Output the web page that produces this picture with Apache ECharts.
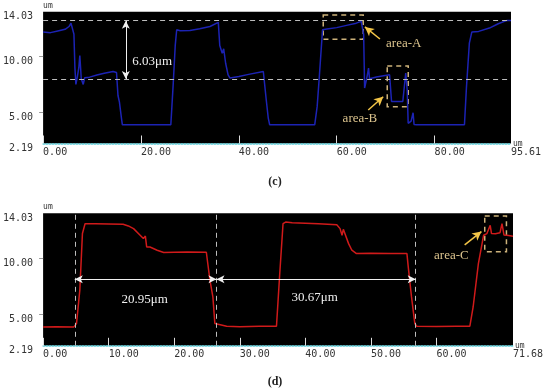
<!DOCTYPE html>
<html>
<head>
<meta charset="utf-8">
<script src="https://cdn.jsdelivr.net/npm/echarts@6/dist/echarts.min.js"></script>
<style>html,body{margin:0;padding:0;background:#fff}#c{width:550px;height:391px}</style>
</head>
<body>
<div id="c"></div>
<script>
// Panel (c): blue profile
const cX = [0,1.5,3,4.5,5.3,5.7,6.0,6.3,6.5,6.7,7.0,7.3,7.5,7.8,8.2,8.5,9.5,11,12.5,14.3,15.0,15.3,15.6,16.0,16.2,26.1,26.6,27.0,27.3,28,30,32,34.1,35.8,36.1,36.6,36.9,37.3,37.8,38.2,40,42,45.0,45.4,45.6,46.0,46.3,55.5,56.0,56.4,57.1,58,60,62,64,65.0,65.5,65.7,66.2,66.5,66.7,67.0,68.1,70.8,71.2,73.5,74.1,74.4,74.6,75.2,75.6,75.8,76.3,86.1,86.5,87.1,87.6,89,91.2,93,94.8,95.61];
const cY = [12.2,12.15,12.3,12.45,12.7,13.0,13.0,12.0,9.0,7.5,8.2,9.0,10.1,8.0,7.5,8.1,8.15,8.35,8.5,8.66,8.57,6.5,5.9,4.5,3.87,3.87,7.64,11.0,12.41,12.32,12.35,12.5,12.7,13.07,11.0,10.3,10.7,9.4,8.36,8.07,8.2,8.4,8.66,8.5,6.1,4.5,3.87,3.87,5.5,7.92,12.41,12.47,12.6,12.8,13.0,13.16,12.0,7.17,8.2,8.97,8.0,7.9,8.16,8.36,5.96,5.96,8.52,7.0,4.0,4.2,4.95,3.9,3.87,3.87,7.17,11.2,12.2,12.26,12.56,12.95,13.25,13.25];
// Panel (d): red profile
const dX = [0,2,4.69,4.9,5.1,5.6,6.0,6.4,8,10,12.2,13.0,13.8,14.8,15.3,15.6,15.7,15.8,16.3,17.4,18.4,20,22,24.9,25.2,25.45,25.9,26.2,26.5,28,30,33,35.6,36.1,36.6,37.0,38,40,42,44.8,45.3,45.6,45.8,46.1,46.6,47.1,47.8,50,53,55.5,55.7,56.2,56.7,57.0,60,63,65.1,65.6,66.4,67.2,67.7,68.0,68.2,68.4,69.0,69.7,70.0,70.3,71.0,71.68];
const dY = [3.88,3.9,3.88,3.95,4.18,7.16,12.22,13.1,13.1,13.08,13.05,12.9,12.66,12.07,11.77,12.0,11.5,11.02,11.02,10.73,10.52,10.55,10.58,10.55,10.4,8.05,6.56,4.18,4.03,3.94,3.9,3.94,3.94,8.65,13.1,13.25,13.18,13.15,13.1,13.0,12.66,12.07,12.6,12.5,11.32,10.73,10.43,10.45,10.43,10.43,9.24,6.56,4.18,3.94,3.92,3.94,3.94,5.66,9.54,12.07,12.22,12.3,12.96,12.22,12.2,12.3,13.1,12.1,12.05,11.98];

const yMin = 2.19, yMax = 14.03;
const cXMax = 95.61, dXMax = 71.68;
const yLabelVals = [2.19, 5, 10, 14.03];
const yTickVals = [5, 10];
const cXLabelVals = [0, 20, 40, 60, 80, 95.61];
const cXTickVals = [0, 20, 40, 60, 80];
const dXLabelVals = [0, 10, 20, 30, 40, 50, 60, 71.68];
const dXTickVals = [0, 10, 20, 30, 40, 50, 60];

// annotations (data coordinates)
const cDashY = [13.22, 7.98];
const cArrowX = 16.9;
const cGapText = '6.03μm';
const areaA = [[57.24, 13.73], [65.41, 11.55]];
const areaB = [[70.32, 9.15], [74.61, 5.50]];
const arrowA = [[68.83, 11.58], [65.76, 12.66]];
const arrowB = [[66.44, 5.20], [69.5, 6.39]];
const dDashX = [4.83, 26.45, 56.84];
const dArrowY = 8.13;
const dTexts = ['20.95μm', '30.67μm'];
const areaC = [[67.37, 13.79], [70.68, 10.60]];
const arrowC = [[64.31, 11.21], [66.86, 12.40]];

const pair = (xs, ys) => xs.map((x, i) => [x, ys[i]]);
const axisFont = {fontFamily: 'DejaVu Sans Mono', fontSize: 10, color: '#333'};
const gold = '#f2c447', tan = '#cdb27a', txtTan = '#dcc48e';

function xAxis(gi, max, labVals, tickVals) {
  return {
    type: 'value', gridIndex: gi, min: 0, max: max,
    name: 'um', nameLocation: 'end', nameGap: 2,
    nameTextStyle: {fontFamily: 'DejaVu Sans Mono', fontSize: 8, color: '#333', align: 'left', verticalAlign: 'middle'},
    axisLine: {show: true, lineStyle: {color: '#5ed0dc', type: 'dotted', width: 1.5}},
    axisTick: {show: true, inside: true, length: 8, customValues: tickVals, lineStyle: {color: '#ddd', width: 1}},
    axisLabel: Object.assign({show: true, customValues: labVals, margin: 4, align: 'left',
      formatter: v => v.toFixed(2)}, axisFont),
    splitLine: {show: false}
  };
}
function yAxis(gi) {
  return {
    type: 'value', gridIndex: gi, min: yMin, max: yMax,
    name: 'um', nameLocation: 'end', nameGap: 2,
    nameTextStyle: {fontFamily: 'DejaVu Sans Mono', fontSize: 8, color: '#333', align: 'left', verticalAlign: 'bottom'},
    axisLine: {show: false},
    axisTick: {show: true, inside: false, length: 4, customValues: yTickVals, lineStyle: {color: '#999'}},
    axisLabel: Object.assign({show: true, customValues: yLabelVals, margin: 10, verticalAlign: 'top',
      formatter: v => v.toFixed(2)}, axisFont),
    splitLine: {show: false}
  };
}
const textPoint = (coord, text, color, size) => ({
  coord: coord, value: text, symbol: 'rect', symbolSize: 1, itemStyle: {color: 'rgba(0,0,0,0)'},
  label: {show: true, position: 'inside', formatter: text, color: color, fontFamily: 'Liberation Serif', fontSize: size}
});
const annoSeries = (xi, extra) => Object.assign({type: 'line', xAxisIndex: xi, yAxisIndex: xi, data: [], silent: true}, extra);

const chart = echarts.init(document.getElementById('c'), null, {renderer: 'canvas'});
chart.setOption({
  animation: false,
  backgroundColor: '#fff',
  grid: [
    {left: 43, top: 11.7, width: 468, height: 131.8, show: true, backgroundColor: '#000', borderWidth: 0},
    {left: 43, top: 213.3, width: 470, height: 132.5, show: true, backgroundColor: '#000', borderWidth: 0}
  ],
  xAxis: [xAxis(0, cXMax, cXLabelVals, cXTickVals), xAxis(1, dXMax, dXLabelVals, dXTickVals)],
  yAxis: [yAxis(0), yAxis(1)],
  graphic: [
    {type: 'text', left: 'center', top: 176, style: {text: '(c)', font: 'bold 12px "Liberation Serif"', fill: '#222'}},
    {type: 'text', left: 'center', top: 376, style: {text: '(d)', font: 'bold 12px "Liberation Serif"', fill: '#222'}}
  ],
  series: [
    annoSeries(0, {markLine: {silent: true, symbol: 'none', label: {show: false},
      lineStyle: {color: '#bdbdbd', type: [5, 4], width: 1},
      data: cDashY.map(v => ({yAxis: v}))}}),
    {type: 'line', xAxisIndex: 0, yAxisIndex: 0, data: pair(cX, cY), showSymbol: false,
      lineStyle: {color: '#1c23b4', width: 1.5}, z: 3},
    annoSeries(0, {markLine: {silent: true, symbol: ['arrow', 'arrow'], symbolSize: [6, 8], label: {show: false},
      lineStyle: {color: '#f0f0f0', type: 'solid', width: 1},
      data: [[{coord: [cArrowX, cDashY[0]]}, {coord: [cArrowX, cDashY[1]]}]]},
      markPoint: {data: [textPoint([22.3, 9.54], cGapText, '#f0f0f0', 13)]}}),
    annoSeries(0, {z: 5, markArea: {silent: true, itemStyle: {color: 'rgba(0,0,0,0)', borderColor: tan, borderWidth: 1.5, borderType: [5, 4]},
      data: [[{coord: areaA[0]}, {coord: areaA[1]}], [{coord: areaB[0]}, {coord: areaB[1]}]]},
      markLine: {silent: true, symbol: ['none', 'arrow'], symbolSize: [7, 9], label: {show: false},
        lineStyle: {color: gold, type: 'solid', width: 1.5},
        data: [[{coord: arrowA[0]}, {coord: arrowA[1]}], [{coord: arrowB[0]}, {coord: arrowB[1]}]]},
      markPoint: {data: [textPoint([73.7, 11.19], 'area-A', txtTan, 13), textPoint([64.74, 4.39], 'area-B', txtTan, 13)]}}),

    annoSeries(1, {markLine: {silent: true, symbol: 'none', label: {show: false},
      lineStyle: {color: '#bdbdbd', type: [5, 4], width: 1},
      data: dDashX.map(v => ({xAxis: v}))}}),
    {type: 'line', xAxisIndex: 1, yAxisIndex: 1, data: pair(dX, dY), showSymbol: false,
      lineStyle: {color: '#d01a1a', width: 1.5}, z: 3},
    annoSeries(1, {markLine: {silent: true, symbol: ['arrow', 'arrow'], symbolSize: [6, 8], label: {show: false},
      lineStyle: {color: '#f0f0f0', type: 'solid', width: 1},
      data: [[{coord: [dDashX[0], dArrowY]}, {coord: [dDashX[1], dArrowY]}],
             [{coord: [dDashX[1], dArrowY]}, {coord: [dDashX[2], dArrowY]}]]},
      markPoint: {data: [textPoint([15.51, 6.34], dTexts[0], '#f0f0f0', 13), textPoint([41.44, 6.52], dTexts[1], '#f0f0f0', 13)]}}),
    annoSeries(1, {z: 5, markArea: {silent: true, itemStyle: {color: 'rgba(0,0,0,0)', borderColor: tan, borderWidth: 1.5, borderType: [5, 4]},
      data: [[{coord: areaC[0]}, {coord: areaC[1]}]]},
      markLine: {silent: true, symbol: ['none', 'arrow'], symbolSize: [7, 9], label: {show: false},
        lineStyle: {color: gold, type: 'solid', width: 1.5},
        data: [[{coord: arrowC[0]}, {coord: arrowC[1]}]]},
      markPoint: {data: [textPoint([62.28, 10.25], 'area-C', txtTan, 13)]}})
  ]
});
</script>
</body>
</html>
